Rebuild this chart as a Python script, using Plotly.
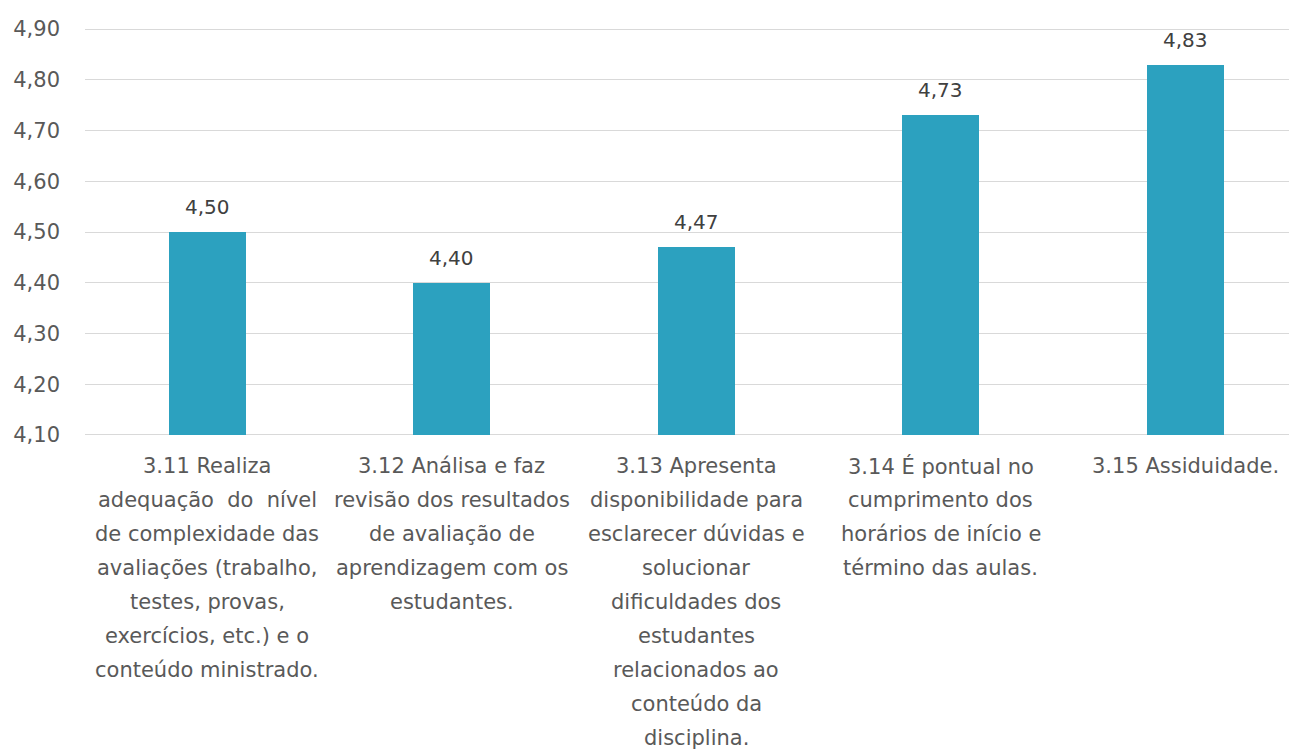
import plotly.graph_objects as go

categories = ["3.11", "3.12", "3.13", "3.14", "3.15"]
label_lines = [
    ["3.11 Realiza", "adequação  do  nível", "de complexidade das", "avaliações (trabalho,",
     "testes, provas,", "exercícios, etc.) e o", "conteúdo ministrado."],
    ["3.12 Análisa e faz", "revisão dos resultados", "de avaliação de",
     "aprendizagem com os", "estudantes."],
    ["3.13 Apresenta", "disponibilidade para", "esclarecer dúvidas e", "solucionar",
     "dificuldades dos", "estudantes", "relacionados ao", "conteúdo da", "disciplina."],
    ["3.14 É pontual no", "cumprimento dos", "horários de início e", "término das aulas."],
    ["3.15 Assiduidade."],
]
values = [4.50, 4.40, 4.47, 4.73, 4.83]
y_ticks = [4.10, 4.20, 4.30, 4.40, 4.50, 4.60, 4.70, 4.80, 4.90]
BASE = 4.10

FONT = "DejaVu Sans"
xs = list(range(len(categories)))

fig = go.Figure()
fig.add_trace(go.Bar(
    x=xs, y=[v - BASE for v in values], base=BASE, width=0.315,
    marker=dict(color="#2ca1bf", line=dict(width=0)),
))

annotations = []
for i, v in enumerate(values):
    annotations.append(dict(
        x=i, y=v, xref="x", yref="y", text=f"{v:.2f}".replace(".", ","),
        showarrow=False, yanchor="middle", yshift=25,
        font=dict(family=FONT, size=20, color="#404040"),
    ))
for i, lines in enumerate(label_lines):
    for j, line in enumerate(lines):
        annotations.append(dict(
            x=i, y=0, xref="x", yref="paper", text=line.replace("  ", "&nbsp; "),
            showarrow=False, yanchor="middle", xanchor="center", yshift=-(30 + 34 * j),
            font=dict(family=FONT, size=21, color="#595959"),
        ))

fig.update_layout(
    width=1289, height=741,
    margin=dict(l=77, r=0, t=20, b=313),
    plot_bgcolor="white", paper_bgcolor="white",
    showlegend=False,
    separators=", ",
    annotations=annotations,
    bargap=0,
)
fig.update_xaxes(
    range=[-0.5, 4.457], showticklabels=False, showgrid=False, zeroline=False,
    showline=False, ticks="",
)
fig.update_yaxes(
    range=[4.098, 4.902], tickvals=y_ticks,
    ticktext=[f"{t:.2f}".replace(".", ",") for t in y_ticks],
    showgrid=True, gridcolor="#d9d9d9", gridwidth=1, zeroline=False, showline=False,
    ticks="", ticklabelstandoff=24,
    tickfont=dict(family=FONT, size=21, color="#595959"),
)

fig.write_html("out.html")
